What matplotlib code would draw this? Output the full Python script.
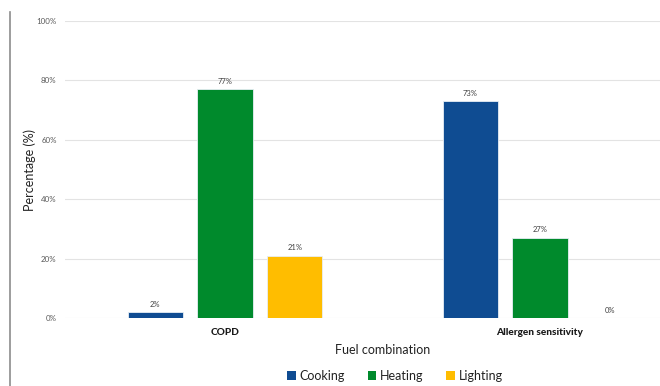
import matplotlib
matplotlib.use("Agg")
import matplotlib.pyplot as plt
from matplotlib.lines import Line2D
from matplotlib.patches import Patch
import numpy as np

plt.rcParams['font.family'] = ['Lato', 'DejaVu Sans']

categories = ["COPD", "Allergen sensitivity"]
series = ["Cooking", "Heating", "Lighting"]
cooking = [2, 73]
heating = [77, 27]
lighting = [21, 0]
colors = ["#0F4C92", "#008A2C", "#FFBD00"]
yticks = [0, 20, 40, 60, 80, 100]
ytick_labels = ["0%", "20%", "40%", "60%", "80%", "100%"]

W, H = 660, 386
fig = plt.figure(figsize=(W / 100, H / 100), dpi=100)
ax = fig.add_axes([65 / W, 1 - 318 / H, (660 - 65) / W, (318 - 21) / H])

x = np.arange(len(categories))
width = 0.175
step = 0.222
for i, (name, vals, c) in enumerate(zip(series, [cooking, heating, lighting], colors)):
    pos = x + (i - 1) * step
    ax.bar(pos, vals, width=width, color=c, edgecolor="#e8eef5", linewidth=0.6, zorder=3)
    for p, v in zip(pos, vals):
        ax.text(p, v + 1.5, f"{v}%", ha="center", va="bottom", fontsize=5.5, color="#404040")

ax.set_xlim(-0.508, 1.381)
ax.set_ylim(0, 100)
ax.set_yticks(yticks)
ax.set_yticklabels(ytick_labels, fontsize=5.7, color="#595959")
ax.grid(axis="y", color="#e3e3e3", linewidth=0.8, zorder=0)
ax.tick_params(axis="both", length=0, pad=6)
for s in ax.spines.values():
    s.set_visible(False)
ax.set_xticks(x)
ax.set_xticklabels(categories, fontsize=7.3, fontweight="black", color="#1a1a1a")
ax.tick_params(axis="x", pad=7)

fig.text(30 / W, 1 - 170 / H, "Percentage (%)", rotation=90, ha="center", va="center",
         fontsize=9, color="#222222")
fig.text(383 / W, 1 - 350 / H, "Fuel combination", ha="center", va="center",
         fontsize=9, color="#222222")

handles = [Patch(facecolor=c, edgecolor="none") for c in colors]
fig.legend(handles, series, loc="center", bbox_to_anchor=(395 / W, 1 - 376 / H),
           ncol=3, frameon=False, fontsize=9, handlelength=0.7, handleheight=0.7,
           handletextpad=0.3, columnspacing=1.8, labelcolor="#222222")

fig.add_artist(Line2D([10 / W, 10 / W], [0, 1 - 12 / H], transform=fig.transFigure,
                      color="#8c8c8c", linewidth=1.2))

fig.savefig("out.png", dpi=100, facecolor="white")
